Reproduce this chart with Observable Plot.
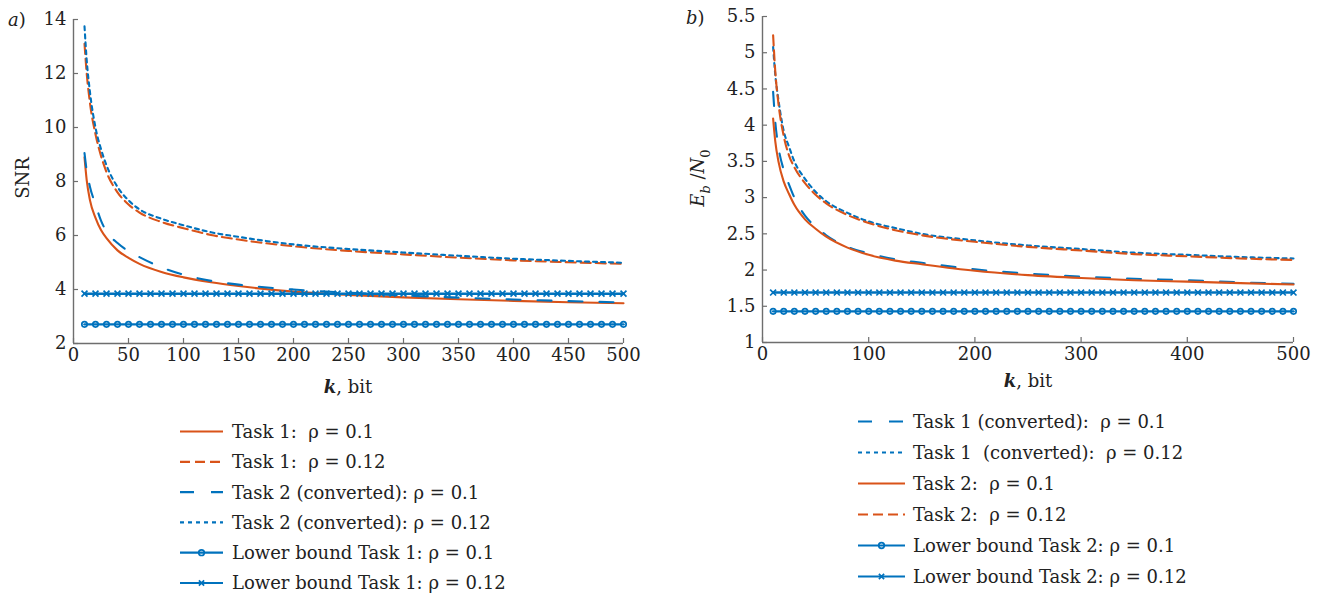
<!DOCTYPE html>
<html><head><meta charset="utf-8">
<script src="https://cdn.jsdelivr.net/npm/d3@7"></script>
<script src="https://cdn.jsdelivr.net/npm/@observablehq/plot@0.6"></script>
<style>
body{margin:0;background:#fff;width:1324px;height:597px;position:relative;overflow:hidden;font-family:"DejaVu Serif",serif;color:#222}
#left,#right{position:absolute;top:0;width:662px}
#left{left:0}#right{left:662px}
#legend{position:absolute;left:0;top:0}
</style></head><body>
<div id="left"></div><div id="right"></div>
<script>
// ---- data ----
const kA = [10,12,15,20,25,30,40,50,60,80,100,125,150,200,250,300,350,400,450,500];
// panel a) SNR
const snrTask1Rho01  = [8.9,8.05,7.3,6.65,6.2,5.9,5.45,5.17,4.95,4.65,4.45,4.27,4.13,3.92,3.8,3.71,3.64,3.58,3.53,3.49];
const snrTask1Rho012 = [13.1,12.0,10.9,9.75,8.95,8.35,7.6,7.15,6.85,6.5,6.27,6.02,5.85,5.6,5.43,5.3,5.18,5.08,5.01,4.95];
const snrTask2Rho01  = [9.05,8.4,7.8,7.15,6.55,6.15,5.72,5.42,5.2,4.82,4.55,4.32,4.18,4.0,3.88,3.78,3.7,3.63,3.57,3.52];
const snrTask2Rho012 = [13.75,12.5,11.3,10.0,9.2,8.6,7.8,7.3,6.97,6.62,6.38,6.12,5.95,5.67,5.5,5.37,5.25,5.14,5.06,4.99];
const snrLowerRho01 = 2.71, snrLowerRho012 = 3.845;
// panel b) Eb/N0
const ebTask1Rho01  = [4.46,4.05,3.7,3.38,3.18,3.0,2.75,2.6,2.48,2.32,2.23,2.15,2.1,2.01,1.95,1.91,1.88,1.86,1.83,1.81];
const ebTask1Rho012 = [5.08,4.7,4.35,3.92,3.7,3.5,3.26,3.08,2.95,2.79,2.67,2.58,2.5,2.41,2.34,2.29,2.24,2.21,2.18,2.16];
const ebTask2Rho01  = [4.09,3.78,3.5,3.22,3.05,2.9,2.7,2.57,2.46,2.31,2.21,2.13,2.08,1.99,1.93,1.89,1.86,1.84,1.82,1.80];
const ebTask2Rho012 = [5.24,4.75,4.3,3.85,3.58,3.42,3.2,3.04,2.92,2.76,2.65,2.55,2.48,2.39,2.32,2.27,2.22,2.19,2.16,2.14];
const ebLowerRho01 = 1.43, ebLowerRho012 = 1.69;
// marker grid for lower bounds
const kGrid = [10,20,30,40,50,60,70,80,90,100,110,120,130,140,150,160,170,180,190,200,210,220,230,240,250,260,270,280,290,300,310,320,330,340,350,360,370,380,390,400,410,420,430,440,450,460,470,480,490,500];
// ticks
const xTicksA = [0,50,100,150,200,250,300,350,400,450,500];
const yTicksA = [2,4,6,8,10,12,14];
const xTicksB = [0,100,200,300,400,500];
const yTicksB = [1,1.5,2,2.5,3,3.5,4,4.5,5,5.5];
// legend labels
const legendA = ["Task 1:  ρ = 0.1","Task 1:  ρ = 0.12","Task 2 (converted): ρ = 0.1","Task 2 (converted): ρ = 0.12","Lower bound Task 1: ρ = 0.1","Lower bound Task 1: ρ = 0.12"];
const legendB = ["Task 1 (converted):  ρ = 0.1","Task 1  (converted):  ρ = 0.12","Task 2:  ρ = 0.1","Task 2:  ρ = 0.12","Lower bound Task 2: ρ = 0.1","Lower bound Task 2: ρ = 0.12"];

// ---- styles ----
const ORANGE = "#D95319", BLUE = "#0072BD", AXIS = "#6e6e6e", TEXT = "#222";
const FONT = "DejaVu Serif";
const S_SOLID = null, S_DASH = "10,5", S_LONG = "14,17", S_DOT = "4,4";

function panel(o) {
  const plotW = o.width - o.ml - o.mr, plotH = o.height - o.mt - o.mb;
  const marks = [
    Plot.ruleY([o.yDomain[0]], {stroke: AXIS, strokeWidth: 1.4}),
    Plot.ruleX([o.xDomain[0]], {stroke: AXIS, strokeWidth: 1.4}),
    Plot.tickX(o.xTicks, {x: d => d, stroke: AXIS, strokeWidth: 1.2, insetTop: plotH - 5}),
    Plot.tickY(o.yTicks, {y: d => d, stroke: AXIS, strokeWidth: 1.2, insetRight: plotW - 5}),
    Plot.axisX(o.xTicks, {tickSize: 0, tickPadding: 5, tickFormat: d => String(d), fontSize: 18, label: null}),
    Plot.axisY(o.yTicks, {tickSize: 0, tickPadding: 7, tickFormat: d => String(d), fontSize: 18, label: null})
  ];
  for (const s of o.series) {
    marks.push(Plot.line(kA.map((k, i) => ({k, v: s.values[i]})), {
      x: "k", y: "v", stroke: s.color, strokeWidth: 2.1, strokeDasharray: s.dash, curve: "monotone-x"
    }));
  }
  for (const b of o.bounds) {
    const d = kGrid.map(k => ({k, v: b.value}));
    marks.push(Plot.line(d, {x: "k", y: "v", stroke: BLUE, strokeWidth: 2.4}));
    marks.push(Plot.dot(d, {x: "k", y: "v", symbol: b.symbol, r: b.symbol === "circle" ? 2.7 : 2.8, stroke: BLUE, strokeWidth: 1.7, fill: "none"}));
  }
  return Plot.plot({
    width: o.width, height: o.height,
    marginLeft: o.ml, marginRight: o.mr, marginTop: o.mt, marginBottom: o.mb,
    x: {domain: o.xDomain, label: null},
    y: {domain: o.yDomain, label: null},
    style: {fontFamily: FONT, fontSize: "18px", color: TEXT, background: "white", overflow: "visible"},
    marks
  });
}

const svgA = panel({
  width: 662, height: 400, ml: 73, mr: 39, mt: 19, mb: 57,
  xDomain: [0, 500], yDomain: [2, 14], xTicks: xTicksA, yTicks: yTicksA,
  series: [
    {values: snrTask1Rho01, color: ORANGE, dash: S_SOLID},
    {values: snrTask1Rho012, color: ORANGE, dash: S_DASH},
    {values: snrTask2Rho01, color: BLUE, dash: S_LONG},
    {values: snrTask2Rho012, color: BLUE, dash: S_DOT}
  ],
  bounds: [{value: snrLowerRho01, symbol: "circle"}, {value: snrLowerRho012, symbol: "times"}]
});
const svgB = panel({
  width: 662, height: 400, ml: 100, mr: 31, mt: 16, mb: 58,
  xDomain: [0, 500], yDomain: [1, 5.5], xTicks: xTicksB, yTicks: yTicksB,
  series: [
    {values: ebTask1Rho01, color: BLUE, dash: S_LONG},
    {values: ebTask1Rho012, color: BLUE, dash: S_DOT},
    {values: ebTask2Rho01, color: ORANGE, dash: S_SOLID},
    {values: ebTask2Rho012, color: ORANGE, dash: S_DASH}
  ],
  bounds: [{value: ebLowerRho01, symbol: "circle"}, {value: ebLowerRho012, symbol: "times"}]
});
document.getElementById("left").appendChild(svgA);
document.getElementById("right").appendChild(svgB);

// ---- panel labels & axis titles ----
function addText(svg, x, y, parts, opts = {}) {
  const t = d3.select(svg).append("text").attr("x", x).attr("y", y)
    .attr("fill", TEXT).attr("font-family", FONT).attr("font-size", opts.size || 18)
    .attr("text-anchor", opts.anchor || "start").style("white-space", "pre");
  if (opts.rotate) t.attr("transform", `rotate(${opts.rotate},${x},${y})`);
  for (const p of parts) {
    const s = t.append("tspan").text(p.t);
    if (p.i) s.attr("font-style", "italic");
    if (p.b) s.attr("font-weight", "bold");
    if (p.dy) s.attr("dy", p.dy);
    if (p.fs) s.attr("font-size", p.fs);
  }
  return t;
}
addText(svgA, 8, 26, [{t: "a", i: 1}, {t: ")"}]);
addText(svgA, 29, 178, [{t: "SNR"}], {anchor: "middle", rotate: -90});
addText(svgA, 348, 393, [{t: "k", i: 1, b: 1}, {t: ", bit"}], {anchor: "middle"});
addText(svgB, 24, 24, [{t: "b", i: 1}, {t: ")"}]);
addText(svgB, 42, 178, [{t: "E", i: 1}, {t: "b", i: 1, dy: 6, fs: 13}, {t: " /", dy: -6}, {t: "N", i: 1}, {t: "0", dy: 6, fs: 13}], {anchor: "middle", rotate: -90});
addText(svgB, 366, 387, [{t: "k", i: 1, b: 1}, {t: ", bit"}], {anchor: "middle"});

// ---- legends ----
const leg = d3.select("body").append("svg").attr("id", "legend").attr("width", 1324).attr("height", 597);
function legend(labels, styles, x0, x1, tx, y0, dy) {
  labels.forEach((lab, i) => {
    const y = y0 + i * dy, st = styles[i];
    leg.append("line").attr("x1", x0).attr("x2", x1).attr("y1", y).attr("y2", y)
      .attr("stroke", st.color).attr("stroke-width", 2.2).attr("stroke-dasharray", st.dash);
    const cx = (x0 + x1) / 2;
    if (st.symbol === "circle") leg.append("circle").attr("cx", cx).attr("cy", y).attr("r", 2.8).attr("fill", "none").attr("stroke", BLUE).attr("stroke-width", 1.7);
    if (st.symbol === "times") leg.append("path").attr("d", `M${cx-2.6},${y-2.6}L${cx+2.6},${y+2.6}M${cx-2.6},${y+2.6}L${cx+2.6},${y-2.6}`).attr("stroke", BLUE).attr("stroke-width", 1.7);
    leg.append("text").attr("x", tx).attr("y", y).attr("dy", "0.36em")
      .attr("fill", TEXT).attr("font-family", FONT).attr("font-size", 18).style("white-space", "pre")
      .text(lab);
  });
}
legend(legendA, [
  {color: ORANGE, dash: S_SOLID}, {color: ORANGE, dash: S_DASH}, {color: BLUE, dash: S_LONG},
  {color: BLUE, dash: S_DOT}, {color: BLUE, dash: null, symbol: "circle"}, {color: BLUE, dash: null, symbol: "times"}
], 180, 223, 232, 431.5, 30.3);
legend(legendB, [
  {color: BLUE, dash: S_LONG}, {color: BLUE, dash: S_DOT}, {color: ORANGE, dash: S_SOLID},
  {color: ORANGE, dash: S_DASH}, {color: BLUE, dash: null, symbol: "circle"}, {color: BLUE, dash: null, symbol: "times"}
], 858, 905, 913, 421.5, 31);
</script>
</body></html>
